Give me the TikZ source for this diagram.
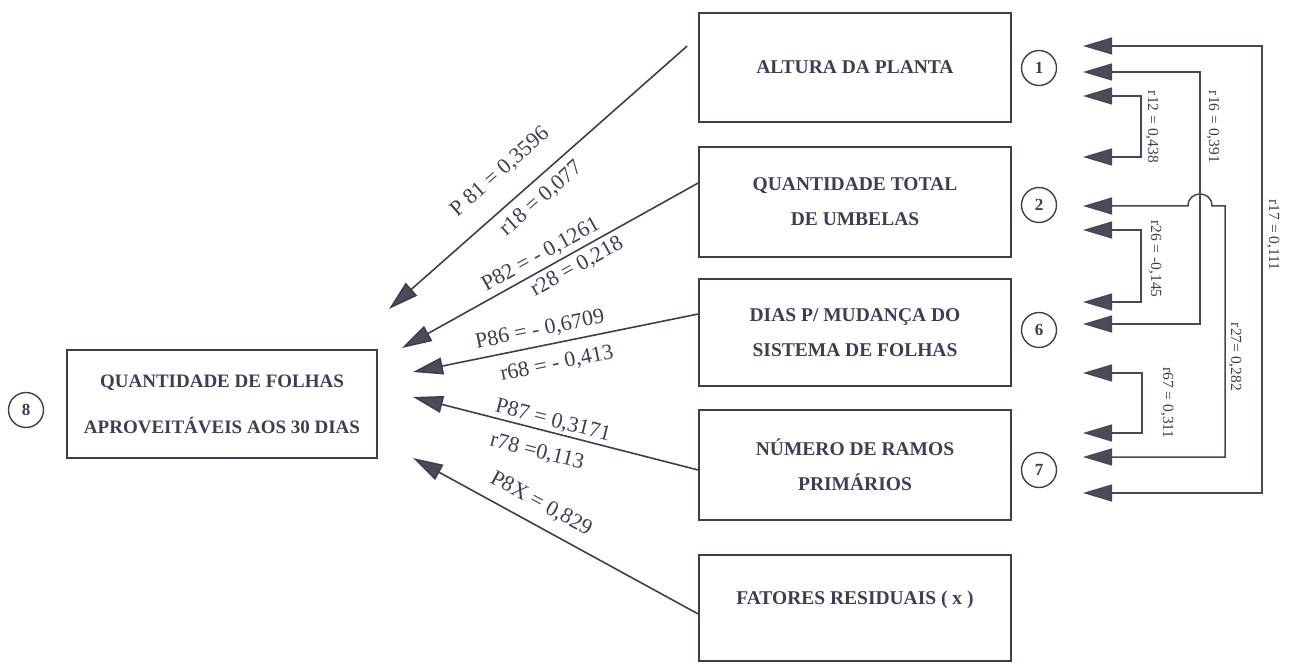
\documentclass[tikz,border=0pt]{standalone}
\usepackage{fontspec}
\setmainfont{Liberation Serif}
\usetikzlibrary{arrows.meta}
\definecolor{ink}{rgb}{0.24,0.24,0.33}
\definecolor{wire}{rgb}{0.28,0.28,0.35}
\definecolor{headfill}{rgb}{0.30,0.30,0.34}
\begin{document}
\begin{tikzpicture}[x=1pt,y=-1pt,
  box/.style={draw=ink, line width=1.6pt, text=ink, align=center, inner sep=0pt,
    font=\bfseries\fontsize{19.5}{35}\selectfont},
  num/.style={circle, draw=ink, line width=1.4pt, minimum size=35pt, inner sep=0pt,
    text=ink, font=\bfseries\fontsize{17}{17}\selectfont},
  effect/.style={draw=ink, line width=1.6pt,
    -{Triangle[length=30pt,width=17pt,fill=headfill]}},
  corr/.style={draw=wire, line width=1.5pt,
    {Triangle[length=29pt,width=17pt,fill=headfill]}-{Triangle[length=29pt,width=17pt,fill=headfill]}},
  coef/.style={text=ink, inner sep=0pt, font=\fontsize{22}{22}\selectfont},
  rlab/.style={text=ink, inner sep=0pt, rotate=-90, font=\fontsize{15.5}{15.5}\selectfont}
]
\useasboundingbox (0,0) rectangle (1293,663);

% response variable
\node[box, minimum width=310pt, minimum height=108pt,
      font=\bfseries\fontsize{19}{46}\selectfont] (y8) at (222,404)
  {QUANTIDADE DE FOLHAS\\APROVEITÁVEIS AOS 30 DIAS};
\node[num] (n8) at (26,410) {8};

% explanatory variables
\node[box, minimum width=312pt, minimum height=109pt] (b1) at (855,67.5) {ALTURA DA PLANTA};
\node[box, minimum width=312pt, minimum height=110pt] (b2) at (855,202) {QUANTIDADE TOTAL\\DE UMBELAS};
\node[box, minimum width=312pt, minimum height=107pt] (b3) at (855,332.5) {DIAS P/ MUDANÇA DO\\SISTEMA DE FOLHAS};
\node[box, minimum width=312pt, minimum height=110pt] (b4) at (855,465) {NÚMERO DE RAMOS\\PRIMÁRIOS};
\node[box, minimum width=312pt, minimum height=106pt, text height=13pt, text depth=20pt] (b5) at (855,608) {FATORES RESIDUAIS ( x )};

\node[num] (n1) at (1039,68) {1};
\node[num] (n2) at (1039,205) {2};
\node[num] (n6) at (1039,330) {6};
\node[num] (n7) at (1039,470) {7};

% direct effects on the response
\coordinate (t1) at (389,309);
\coordinate (t2) at (402,348);
\coordinate (t3) at (413,372);
\coordinate (t4) at (413,397);
\coordinate (t5) at (413,458);
\draw[effect] ([xshift=-11pt,yshift=21.5pt]b1.west) -- (t1);
\draw[effect] ([yshift=19pt]b2.west) -- (t2);
\draw[effect] ([yshift=18.5pt]b3.west) -- (t3);
\draw[effect] ([yshift=-5pt]b4.west) -- (t4);
\draw[effect] ([yshift=-6pt]b5.west) -- (t5);

\node[coef, rotate=41.3] (p81) at (500,172) {P 81 = 0,3596};
\node[coef, rotate=41.3] (r18) at (541,199) {r18 = 0,077};
\node[coef, rotate=29.0] (p82) at (541,255) {P82 = - 0,1261};
\node[coef, rotate=29.0] (r28) at (577,267) {r28 = 0,218};
\node[coef, rotate=11.5] (p86) at (540,330) {P86 = - 0,6709};
\node[coef, rotate=11.5] (r68) at (557,364) {r68 = - 0,413};
\node[coef, rotate=-14.3] (p87) at (553,421) {P87 = 0,3171};
\node[coef, rotate=-14.3] (r78) at (537,452) {r78 =0,113};
\node[coef, rotate=-28.6] (p8x) at (541,504) {P8X = 0,829};

% correlations between the explanatory variables
\coordinate (a17) at (1083,46);   \coordinate (z17) at (1083,493);
\coordinate (a16) at (1083,72);   \coordinate (z16) at (1083,324);
\coordinate (a12) at (1083,96);   \coordinate (z12) at (1083,157);
\coordinate (a27) at (1083,206);  \coordinate (z27) at (1083,457);
\coordinate (a26) at (1083,230);  \coordinate (z26) at (1083,302);
\coordinate (a67) at (1083,373);  \coordinate (z67) at (1083,433);

\draw[corr] (a17) -- (1262,46) -- (1262,493) -- (z17);
\draw[corr] (a16) -- (1200,72) -- (1200,324) -- (z16);
\draw[corr] (a12) -- (1141,96) -- (1141,157) -- (z12);
\draw[corr] (a27) -- (1188,206) .. controls (1188,190) and (1212,190) .. (1212,206)
            -- (1225,206) -- (1225,457) -- (z27);
\draw[corr] (a26) -- (1141,230) -- (1141,302) -- (z26);
\draw[corr] (a67) -- (1142,373) -- (1142,433) -- (z67);

\node[rlab] (l12) at (1152,127) {r12 = 0,438};
\node[rlab] (l16) at (1213,127) {r16 = 0,391};
\node[rlab] (l17) at (1273,235) {r17 = 0,111};
\node[rlab] (l26) at (1155,259) {r26 = -0,145};
\node[rlab] (l27) at (1235,357) {r27= 0,282};
\node[rlab] (l67) at (1167,403) {r67 = 0,311};
\end{tikzpicture}
\end{document}
